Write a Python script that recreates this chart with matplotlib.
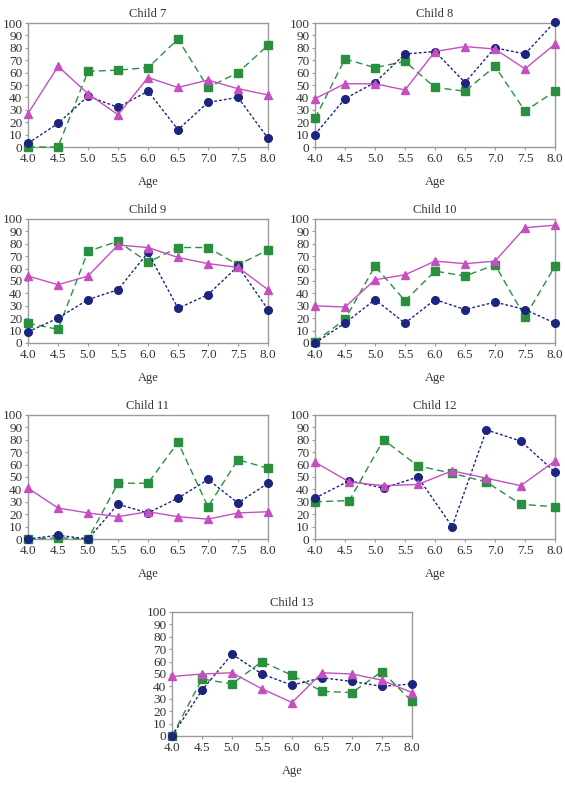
import matplotlib
matplotlib.use('Agg')
import matplotlib.pyplot as plt
import numpy as np

plt.rcParams['font.family'] = ['Liberation Serif', 'DejaVu Serif']

ages = [4.0, 4.5, 5.0, 5.5, 6.0, 6.5, 7.0, 7.5, 8.0]
ages_12 = list(np.linspace(4.0, 8.0, 8))

# child -> circles (navy), squares (green), triangles (magenta)
c7_circ = [3, 19, 41, 32, 45, 14, 36, 40, 7]
c7_sq = [0, 0, 61, 62, 64, 87, 48, 60, 82]
c7_tri = [27, 65, 43, 26, 56, 48, 54, 47, 42]

c8_circ = [10, 39, 52, 75, 77, 52, 80, 75, 101]
c8_sq = [23, 71, 64, 69, 48, 45, 65, 29, 45]
c8_tri = [39, 51, 51, 46, 77, 81, 79, 63, 83]

c9_circ = [9, 20, 35, 43, 73, 28, 39, 62, 27]
c9_sq = [16, 11, 74, 82, 65, 77, 77, 63, 75]
c9_tri = [54, 47, 54, 79, 77, 69, 64, 61, 43]

c10_circ = [0, 16, 35, 16, 35, 27, 33, 27, 16]
c10_sq = [1, 19, 62, 34, 58, 54, 63, 21, 62]
c10_tri = [30, 29, 51, 55, 66, 64, 66, 93, 95]

c11_circ = [0, 3, 0, 28, 21, 33, 48, 29, 45]
c11_sq = [0, 1, 0, 45, 45, 78, 26, 64, 57]
c11_tri = [41, 25, 21, 18, 22, 18, 16, 21, 22]

c12_circ = [33, 47, 41, 50, 10, 88, 79, 54]
c12_sq = [30, 31, 80, 59, 53, 46, 28, 26]
c12_tri = [62, 46, 43, 44, 55, 49, 43, 63]

c13_circ = [0, 37, 66, 50, 41, 47, 44, 40, 42]
c13_sq = [0, 46, 42, 60, 49, 36, 35, 52, 28]
c13_tri = [48, 50, 51, 38, 27, 51, 50, 45, 35]

panels = [
    ('Child 7', ages, c7_circ, c7_sq, c7_tri, (28, 23)),
    ('Child 8', ages, c8_circ, c8_sq, c8_tri, (315, 23)),
    ('Child 9', ages, c9_circ, c9_sq, c9_tri, (28, 219)),
    ('Child 10', ages, c10_circ, c10_sq, c10_tri, (315, 219)),
    ('Child 11', ages, c11_circ, c11_sq, c11_tri, (28, 415)),
    ('Child 12', ages_12, c12_circ, c12_sq, c12_tri, (315, 415)),
    ('Child 13', ages, c13_circ, c13_sq, c13_tri, (172, 612)),
]

W, H = 565, 787
fig = plt.figure(figsize=(W / 100, H / 100), dpi=100)

navy = '#1b2580'
green = '#2a9040'
magenta = '#c54fc0'
frame = '#9a9a9a'

for title, x, circ, sq, tri, (left, top) in panels:
    ax = fig.add_axes([left / W, 1 - (top + 124) / H, 240 / W, 124 / H])
    ax.plot(x, sq, color=green, ls=(0, (5, 3)), lw=1.0, marker='s', ms=5.5,
            clip_on=False, zorder=3)
    ax.plot(x, circ, color=navy, ls=(0, (2, 1.5)), lw=1.0, marker='o', ms=5.5,
            clip_on=False, zorder=4)
    ax.plot(x, tri, color=magenta, ls='-', lw=1.0, marker='^', ms=5.5,
            clip_on=False, zorder=5)
    ax.set_xlim(4.0, 8.0)
    ax.set_ylim(0, 100)
    ax.set_xticks(ages)
    ax.set_xticklabels(['%.1f' % a for a in ages])
    ax.set_yticks(range(0, 101, 10))
    ax.tick_params(labelsize=9.5, length=2, color=frame, pad=2, labelcolor='#333333')
    for s in ax.spines.values():
        s.set_color(frame)
        s.set_linewidth(1.0)
    ax.set_title(title, fontsize=9, color='#333333', pad=4)
    ax.set_xlabel('Age', fontsize=9, color='#333333', labelpad=8)

fig.savefig('out.png', dpi=100)
